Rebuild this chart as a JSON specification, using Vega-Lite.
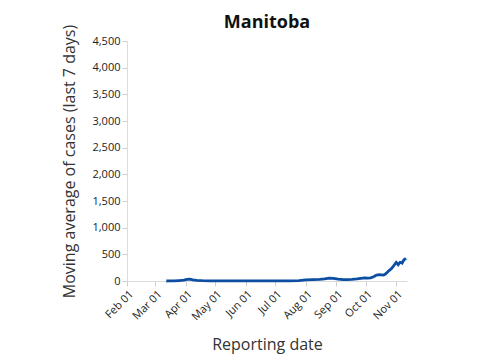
{
  "$schema": "https://vega.github.io/schema/vega-lite/v6.json",
  "width": 280,
  "height": 240,
  "autosize": {"type": "none"},
  "padding": {"left": 127, "top": 41, "right": 93, "bottom": 81},
  "background": "white",
  "title": {"text": "Manitoba", "font": "Open Sans", "fontSize": 18, "fontWeight": "bold", "color": "#111", "offset": -8, "frame": "group"},
  "config": {
    "font": "Open Sans",
    "view": {"stroke": null},
    "axis": {
      "labelFont": "Open Sans", "labelFontSize": 11, "labelColor": "#222",
      "titleFont": "Open Sans", "titleFontSize": 16, "titleFontWeight": "normal", "titleColor": "#333",
      "domainColor": "#dcdcdc", "tickColor": "#d0d0d0", "grid": false
    }
  },
  "data": {"values": [
    {"date": "2020-03-12", "cases": 0},
    {"date": "2020-03-15", "cases": 1},
    {"date": "2020-03-20", "cases": 3},
    {"date": "2020-03-25", "cases": 8},
    {"date": "2020-03-30", "cases": 15},
    {"date": "2020-04-02", "cases": 30},
    {"date": "2020-04-05", "cases": 35},
    {"date": "2020-04-08", "cases": 20},
    {"date": "2020-04-12", "cases": 12},
    {"date": "2020-04-18", "cases": 6},
    {"date": "2020-04-25", "cases": 3},
    {"date": "2020-05-01", "cases": 2},
    {"date": "2020-05-15", "cases": 1},
    {"date": "2020-06-01", "cases": 1},
    {"date": "2020-06-15", "cases": 1},
    {"date": "2020-07-01", "cases": 2},
    {"date": "2020-07-15", "cases": 3},
    {"date": "2020-07-25", "cases": 8},
    {"date": "2020-08-01", "cases": 20},
    {"date": "2020-08-08", "cases": 25},
    {"date": "2020-08-15", "cases": 30},
    {"date": "2020-08-20", "cases": 40},
    {"date": "2020-08-25", "cases": 55},
    {"date": "2020-08-29", "cases": 50},
    {"date": "2020-09-03", "cases": 35},
    {"date": "2020-09-08", "cases": 25},
    {"date": "2020-09-12", "cases": 25},
    {"date": "2020-09-17", "cases": 30},
    {"date": "2020-09-22", "cases": 40},
    {"date": "2020-09-26", "cases": 50},
    {"date": "2020-09-30", "cases": 60},
    {"date": "2020-10-03", "cases": 55},
    {"date": "2020-10-06", "cases": 60},
    {"date": "2020-10-09", "cases": 80},
    {"date": "2020-10-12", "cases": 110},
    {"date": "2020-10-15", "cases": 120},
    {"date": "2020-10-17", "cases": 115},
    {"date": "2020-10-19", "cases": 110},
    {"date": "2020-10-21", "cases": 130},
    {"date": "2020-10-23", "cases": 165},
    {"date": "2020-10-25", "cases": 200},
    {"date": "2020-10-27", "cases": 230},
    {"date": "2020-10-29", "cases": 275},
    {"date": "2020-10-30", "cases": 300},
    {"date": "2020-11-01", "cases": 350},
    {"date": "2020-11-02", "cases": 330},
    {"date": "2020-11-03", "cases": 305},
    {"date": "2020-11-04", "cases": 330},
    {"date": "2020-11-05", "cases": 350},
    {"date": "2020-11-06", "cases": 345},
    {"date": "2020-11-07", "cases": 335},
    {"date": "2020-11-08", "cases": 370},
    {"date": "2020-11-09", "cases": 400},
    {"date": "2020-11-10", "cases": 410},
    {"date": "2020-11-11", "cases": 425}
  ]},
  "mark": {"type": "line", "color": "#0b4ea2", "strokeWidth": 2.8},
  "encoding": {
    "x": {
      "field": "date", "type": "temporal", "title": "Reporting date",
      "scale": {"domain": ["2020-02-01T00:00:00", "2020-11-12T00:00:00"], "nice": false},
      "axis": {
        "format": "%b %d", "labelAngle": -45, "labelOverlap": false, "titlePadding": 15,
        "values": [
          {"year": 2020, "month": 2, "date": 1},
          {"year": 2020, "month": 3, "date": 1},
          {"year": 2020, "month": 4, "date": 1},
          {"year": 2020, "month": 5, "date": 1},
          {"year": 2020, "month": 6, "date": 1},
          {"year": 2020, "month": 7, "date": 1},
          {"year": 2020, "month": 8, "date": 1},
          {"year": 2020, "month": 9, "date": 1},
          {"year": 2020, "month": 10, "date": 1},
          {"year": 2020, "month": 11, "date": 1}
        ]
      }
    },
    "y": {
      "field": "cases", "type": "quantitative", "title": "Moving average of cases (last 7 days)",
      "scale": {"domain": [0, 4500], "nice": false},
      "axis": {"values": [0, 500, 1000, 1500, 2000, 2500, 3000, 3500, 4000, 4500], "format": ",.0f", "titlePadding": 14}
    }
  }
}
